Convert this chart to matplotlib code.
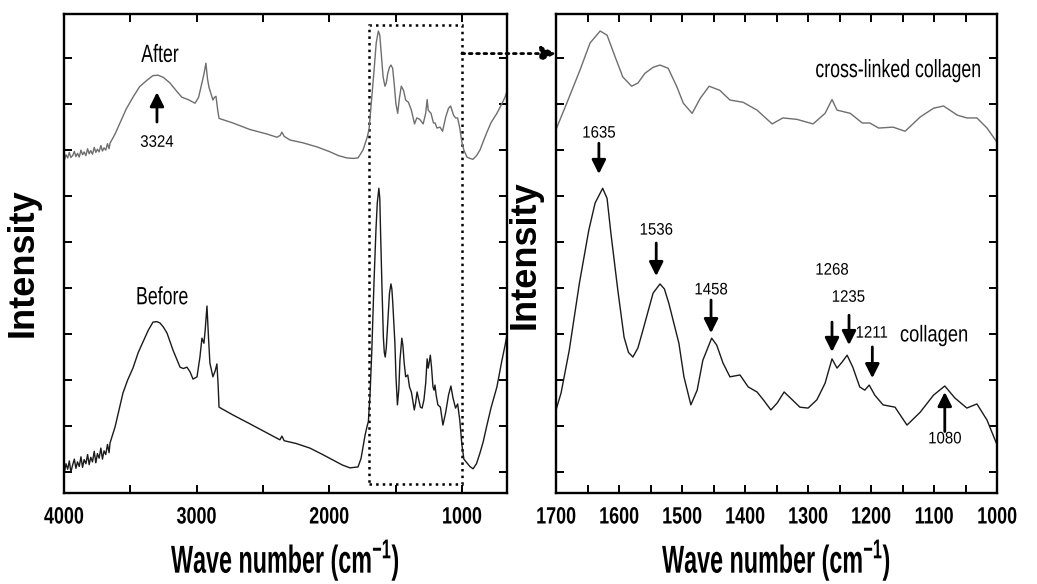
import matplotlib

matplotlib.use("Agg")

from matplotlib import pyplot as plt
from matplotlib.patches import ConnectionPatch, Rectangle
from matplotlib.patheffects import AbstractPathEffect
from matplotlib.ticker import MultipleLocator
from matplotlib.transforms import Affine2D

# ---- data (wavenumber in cm-1, intensity in arbitrary units) ----
after_hi_wn = [3995, 3985, 3972, 3960, 3948, 3935, 3922, 3910, 3898, 3885, 3872, 3860, 3848, 3835,
               3822, 3810, 3798, 3785, 3772, 3760, 3748, 3735, 3722, 3710, 3698, 3685, 3672, 3660,
               3653, 3615, 3578, 3530, 3480, 3430, 3374, 3330, 3291, 3250, 3201, 3150, 3111,
               3065, 3012, 2985, 2960, 2945, 2930, 2918, 2907, 2877, 2865, 2854, 2840, 2831, 2726,
               2600, 2470, 2394, 2370, 2357, 2340, 2296, 2200, 2093, 2000, 1930, 1867, 1820, 1783,
               1746, 1716]
after_hi_y = [6.80, 6.90, 6.83, 6.95, 6.84, 6.88, 6.97, 6.86, 6.93, 6.85, 7.00, 6.90, 6.96, 6.88,
              7.03, 6.92, 6.99, 6.91, 7.06, 6.95, 7.02, 6.96, 7.10, 6.98, 7.05, 7.00, 7.14, 7.03,
              7.15, 7.35, 7.59, 7.90, 8.15, 8.38, 8.52, 8.62, 8.63, 8.58, 8.46, 8.28, 8.15,
              8.10, 8.02, 8.15, 8.46, 8.65, 8.89, 8.55, 8.37, 8.09, 8.15, 8.17, 7.85, 7.69, 7.59,
              7.45, 7.35, 7.28, 7.32, 7.39, 7.30, 7.22, 7.16, 7.07, 6.97, 6.88, 6.83, 6.82, 6.83,
              7.00, 7.26]
after_lo_wn = [985, 962, 940, 916, 890, 864, 840, 811, 780, 736, 700, 675, 660]
after_lo_y = [7.00, 6.85, 6.82, 6.80, 6.88, 7.00, 7.18, 7.39, 7.60, 7.80, 8.00, 8.15, 8.28]

before_hi_wn = [3995, 3985, 3972, 3960, 3948, 3935, 3922, 3910, 3898, 3885, 3872, 3860, 3848, 3835,
                3822, 3810, 3798, 3785, 3772, 3760, 3748, 3735, 3722, 3710, 3698, 3685, 3672, 3660,
                3653, 3615, 3585, 3555, 3520, 3480, 3440, 3404, 3365, 3329, 3300,
                3276, 3250, 3223, 3178, 3125, 3100, 3073, 3050, 3027, 2997, 2975, 2960, 2945, 2935,
                2922, 2910, 2900, 2877, 2860, 2847, 2838, 2831, 2726, 2600, 2470, 2372, 2357, 2340,
                2250, 2146, 2050, 1972, 1900, 1844, 1783, 1760, 1746, 1730, 1716, 1705]
before_hi_y = [0.02, 0.18, 0.06, 0.24, 0.00, 0.15, 0.28, 0.08, 0.22, 0.12, 0.33, 0.10, 0.27, 0.18,
               0.38, 0.16, 0.32, 0.22, 0.45, 0.20, 0.40, 0.30, 0.52, 0.28, 0.46, 0.38, 0.60, 0.42,
               0.63, 0.98, 1.35, 1.72, 2.00, 2.26, 2.60, 2.83, 3.08, 3.26, 3.27,
               3.24, 3.15, 3.02, 2.65, 2.28, 2.25, 2.28, 2.18, 2.02, 2.07, 2.50, 2.91, 2.80, 3.10,
               3.61, 2.90, 2.37, 2.07, 2.20, 2.35, 1.90, 1.41, 1.24, 1.05, 0.85, 0.70, 0.78, 0.68,
               0.62, 0.52, 0.38, 0.26, 0.15, 0.09, 0.11, 0.30, 0.54, 0.80, 0.98, 1.10]
before_lo_wn = [985, 962, 940, 916, 890, 864, 840, 811, 780, 736, 700, 675, 660]
before_lo_y = [0.28, 0.20, 0.12, 0.07, 0.18, 0.41, 0.65, 1.02, 1.40, 1.85, 2.40, 2.75, 2.98]

# fingerprint region 1700-1000 (right panel)
xlinked_wn = [1700, 1683, 1662, 1646, 1630, 1619, 1606, 1594, 1580, 1570, 1559, 1546, 1535, 1522,
              1508, 1498, 1484, 1471, 1457, 1440, 1424, 1403, 1381, 1357, 1340, 1318, 1292, 1273,
              1262, 1254, 1233, 1214, 1202, 1188, 1165, 1146, 1122, 1101, 1085, 1063, 1048, 1032,
              1016, 1000]
xlinked_y = [7.45, 8.02, 8.74, 9.33, 9.59, 9.50, 9.02, 8.59, 8.39, 8.46, 8.67, 8.80, 8.85, 8.78,
             8.37, 8.02, 7.80, 8.13, 8.39, 8.30, 8.09, 8.04, 7.87, 7.57, 7.70, 7.67, 7.57, 7.80,
             8.10, 7.87, 7.80, 7.59, 7.59, 7.48, 7.50, 7.41, 7.72, 7.91, 7.96, 7.76, 7.70, 7.70,
             7.48, 7.17]
collagen_wn = [1700, 1692, 1679, 1663, 1648, 1638, 1626, 1619, 1613, 1602, 1592, 1585, 1578, 1570,
               1562, 1546, 1535, 1528, 1521, 1505, 1497, 1486, 1476, 1467, 1453, 1445, 1435, 1424,
               1408, 1395, 1381, 1371, 1359, 1349, 1338, 1325, 1313, 1300, 1286, 1273, 1262, 1254,
               1246, 1238, 1229, 1218, 1210, 1203, 1194, 1181, 1162, 1143, 1122, 1101, 1083, 1067,
               1048, 1032, 1016, 1000]
collagen_y = [1.35, 1.72, 2.65, 4.10, 5.26, 5.85, 6.17, 5.95, 5.20, 3.96, 2.93, 2.60, 2.50, 2.70,
              3.09, 3.89, 4.09, 3.98, 3.67, 2.80, 2.07, 1.46, 1.78, 2.43, 2.91, 2.76, 2.37, 2.07,
              2.11, 1.85, 1.74, 1.57, 1.35, 1.50, 1.74, 1.57, 1.41, 1.39, 1.57, 1.93, 2.46, 2.26,
              2.39, 2.54, 2.28, 1.85, 1.78, 1.89, 1.67, 1.46, 1.41, 1.02, 1.30, 1.67, 1.87, 1.61,
              1.39, 1.48, 1.13, 0.59]

# peak labels: (label, x, arrow tail y, arrow tip y, text x, text y)
right_peaks = [
    ("1635", 1632, 7.15, 6.48, 1632, 7.37),
    ("1536", 1541, 4.98, 4.26, 1541, 5.26),
    ("1458", 1454, 3.74, 3.02, 1454, 3.96),
    ("1268", 1262, 3.26, 2.61, 1262, 4.39),
    ("1235", 1235, 3.41, 2.76, 1236, 3.80),
    ("1211", 1198, 2.72, 2.04, 1199, 3.02),
]


class Squeeze(AbstractPathEffect):
    """Draw text narrower (the original uses a condensed face)."""

    def __init__(self, sx):
        super().__init__()
        self.sx = sx

    def draw_path(self, renderer, gc, tpath, affine, rgbFace=None):
        ext = tpath.get_extents(affine)
        cx = 0.5 * (ext.x0 + ext.x1)
        squeeze = Affine2D().translate(-cx, 0).scale(self.sx, 1).translate(cx, 0)
        renderer.draw_path(gc, tpath, affine + squeeze, rgbFace)


plt.rcParams["font.family"] = ["Liberation Sans", "DejaVu Sans"]
plt.rcParams["mathtext.fontset"] = "custom"
plt.rcParams["mathtext.rm"] = "Liberation Sans:bold"
plt.rcParams["mathtext.default"] = "rm"

GRAY = "#6e6e6e"
BLACK = "#1a1a1a"
ARROW = dict(arrowstyle="-|>", color="k", lw=2.0, mutation_scale=21, shrinkA=0, shrinkB=0)

fig = plt.figure(figsize=(10.37, 5.84), dpi=100)
ax1 = fig.add_axes([0.0617, 0.1558, 0.4272, 0.8202])
ax2 = fig.add_axes([0.5362, 0.1558, 0.4253, 0.8202])

after_wn = after_hi_wn + xlinked_wn + after_lo_wn
after_y = after_hi_y + xlinked_y + after_lo_y
before_wn = before_hi_wn + collagen_wn + before_lo_wn
before_y = before_hi_y + collagen_y + before_lo_y

ax1.plot(after_wn, after_y, color=GRAY, lw=1.0)
ax1.plot(before_wn, before_y, color=BLACK, lw=1.0)
ax2.plot(xlinked_wn, xlinked_y, color=GRAY, lw=1.0)
ax2.plot(collagen_wn, collagen_y, color=BLACK, lw=1.0)

ax1.set_xlim(4000, 660)
ax1.xaxis.set_major_locator(MultipleLocator(1000))
ax1.xaxis.set_minor_locator(MultipleLocator(500))
ax2.set_xlim(1700, 1000)
ax2.xaxis.set_major_locator(MultipleLocator(100))
ax2.xaxis.set_minor_locator(MultipleLocator(50))

ylabel_x = {ax1: -0.052, ax2: -0.031}
ylabel_y = {ax1: 0.481, ax2: 0.497}
for ax in (ax1, ax2):
    ax.set_ylim(-0.457, 9.96)
    ax.yaxis.set_major_locator(MultipleLocator(1))
    ax.tick_params(which="both", direction="in", top=True, right=True, length=6, width=1.4,
                   labelleft=False)
    ax.tick_params(axis="x", which="major", pad=9, labelsize=17)
    for lab in ax.get_xticklabels():
        lab.set_fontweight("bold")
        lab.set_path_effects([Squeeze(0.76)])
    for sp in ax.spines.values():
        sp.set_linewidth(1.7)
    ax.set_ylabel("Intensity", fontsize=26, fontweight="bold")
    ax.yaxis.set_label_coords(ylabel_x[ax], ylabel_y[ax])
    ax.set_xlabel("Wave number (cm$^{-1}$)", fontsize=28, fontweight="bold", va="baseline",
                  path_effects=[Squeeze(0.6)])
    ax.xaxis.set_label_coords(0.5, -0.167)

# left panel labels
LABEL = dict(fontsize=18, ha="center", va="center", path_effects=[Squeeze(0.71)])
NUM = dict(fontsize=12, ha="center", va="center", path_effects=[Squeeze(0.9)])
ax1.text(3276, 9.07, "After", **LABEL)
ax1.text(3261, 3.80, "Before", **LABEL)
ax1.annotate("", xy=(3299, 8.26), xytext=(3299, 7.61), arrowprops=ARROW)
ax1.text(3299, 7.17, "3324", **NUM)

# zoom box and connector
ax1.add_patch(Rectangle((1700, -0.26), -700, 9.98, fill=False, ls=":", lw=1.8, ec="k",
                        clip_on=False))
con = ConnectionPatch(xyA=(1000, 9.10), coordsA=ax1.transData, xyB=(1700, 9.10),
                      coordsB=ax2.transData, arrowstyle="-|>", ls=":", lw=2.0, color="k",
                      mutation_scale=22, shrinkA=0, shrinkB=0)
fig.add_artist(con)

# right panel labels
ax2.text(1157, 8.74, "cross-linked collagen", **LABEL)
ax2.text(1100, 2.98, "collagen", fontsize=16.5, ha="center", va="center",
         path_effects=[Squeeze(0.8)])
for label, x, tail, tip, tx, ty in right_peaks:
    ax2.annotate("", xy=(x, tip), xytext=(x, tail), arrowprops=ARROW)
    ax2.text(tx, ty, label, **NUM)
ax2.annotate("", xy=(1083, 1.74), xytext=(1083, 0.88), arrowprops=ARROW)
ax2.text(1083, 0.72, "1080", **NUM)

fig.savefig("out.png", dpi=100)
